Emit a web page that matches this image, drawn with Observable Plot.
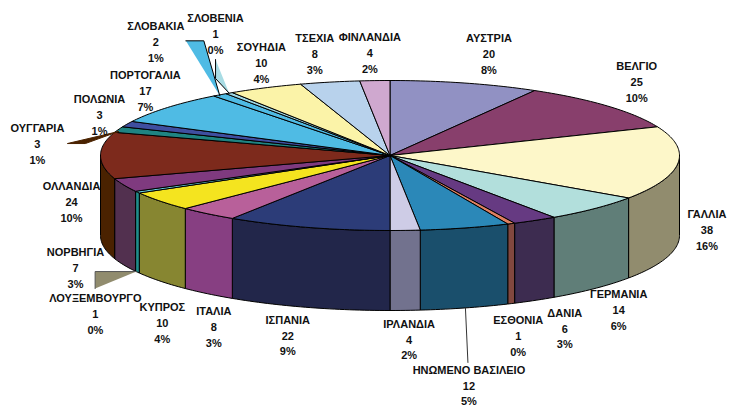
<!DOCTYPE html>
<html lang="el">
<head>
<meta charset="utf-8">
<script src="https://cdn.jsdelivr.net/npm/d3@7"></script>
<script src="https://cdn.jsdelivr.net/npm/@observablehq/plot@0.6"></script>
<style>html,body{margin:0;padding:0;background:#fff}</style>
</head>
<body>
<div id="chart"></div>
<script>
// Chart data, clockwise from twelve o'clock
const countries = ["ΑΥΣΤΡΙΑ","ΒΕΛΓΙΟ","ΓΑΛΛΙΑ","ΓΕΡΜΑΝΙΑ","ΔΑΝΙΑ","ΕΣΘΟΝΙΑ","ΗΝΩΜΕΝΟ ΒΑΣΙΛΕΙΟ","ΙΡΛΑΝΔΙΑ","ΙΣΠΑΝΙΑ","ΙΤΑΛΙΑ","ΚΥΠΡΟΣ","ΛΟΥΞΕΜΒΟΥΡΓΟ","ΝΟΡΒΗΓΙΑ","ΟΛΛΑΝΔΙΑ","ΟΥΓΓΑΡΙΑ","ΠΟΛΩΝΙΑ","ΠΟΡΤΟΓΑΛΙΑ","ΣΛΟΒΑΚΙΑ","ΣΛΟΒΕΝΙΑ","ΣΟΥΗΔΙΑ","ΤΣΕΧΙΑ","ΦΙΝΛΑΝΔΙΑ"];
const values = [20,25,38,14,6,1,12,4,22,8,10,1,7,24,3,3,17,2,1,10,8,4];

// Styles
const topColors = ["#9191c3","#883f6c","#fdf7c9","#b2dfdc","#663a82","#e08060","#2b88b8","#cecce6","#2c3c78","#b8609a","#f4e41f","#66cfdc","#7f3a7f","#7d2a1c","#1f8482","#3f4fa0","#4fbbe4","#4fbbe4","#a0d8e4","#fbf3a8","#b8d2ec","#cfa8cf"];
const sideColors = ["#5f5f85","#5c2a49","#918c6e","#607e78","#3d2c50","#82483f","#1a4f6c","#72728e","#22264a","#873f82","#878631","#1f8c8a","#52304f","#4a2200","#145958","#29356b","#337d99","#337d99","#6a919a","#a8a270","#7b8c9e","#8a708a"];

// Layout of the tilted pie, in the scale's units
const cx = 389.5, cy = 155, rx = 289.5, ry = 75, depth = 80;
// Where each label's middle line sits, relative to the rim at the wedge's middle
const labelDx = [24,29,29,24,30,7,4,4,-20,6,2,-42,-48.5,-29,-81,-27.6,-22,-64,-13.6,-4,-15,-5];
const labelDy = [-30,-25,66,100,107,111,156.5,108,107,112,121,121,82,45,13,-10.6,-18,-54,-60.6,-26,-29,-29];
// Leader tags, as offsets from the rim at the wedge's middle
const leaders = [
  {name:"ΟΥΓΓΑΡΙΑ", dx:[0,-51,-33,0], dy:[2,14,14,2], fill:"#4a2200", edge:[0,1,2,3], stroke:"#4a2200"},
  {name:"ΣΛΟΒΑΚΙΑ", dx:[0,-34,-16,0], dy:[1,-54,-54,1], fill:"#4fbbe4", edge:[1,2,3], stroke:"#000"},
  {name:"ΣΛΟΒΕΝΙΑ", dx:[0,-13.6,-13.6,0], dy:[0,-33.6,-14.6,0], fill:"#a8dce4", edge:[1,2,3], stroke:"#000"},
  {name:"ΛΟΥΞΕΜΒΟΥΡΓΟ", dx:[-1,-42.3,-42.3,-1], dy:[79.4,79.4,96.4,79.4], fill:"#918c6e", edge:[0,1,2], stroke:"#555"},
  {name:"ΗΝΩΜΕΝΟ ΒΑΣΙΛΕΙΟ", dx:[0.5,3], dy:[80,134.5], fill:"none", edge:[0,1], stroke:"#333"}
];

const total = d3.sum(values);
const cumulative = d3.cumsum(values);
const deg = d => d * Math.PI / 180;
const rimX = a => cx + rx * Math.sin(deg(a));
const rimY = a => cy - ry * Math.cos(deg(a));

const wedges = countries.map((name, i) => {
  const a0 = (cumulative[i] - values[i]) / total * 360;
  const a1 = cumulative[i] / total * 360;
  return {name, value: values[i], a0, a1, mid: (a0 + a1) / 2, top: topColors[i], side: sideColors[i], i};
});

const arc = (a0, a1) => {
  const n = Math.max(1, Math.ceil(a1 - a0));
  return d3.range(n + 1).map(k => a0 + (a1 - a0) * k / n);
};

const topPts = wedges.flatMap(w => [
  {name: w.name, fill: w.top, x: cx, y: cy},
  ...arc(w.a0, w.a1).map(a => ({name: w.name, fill: w.top, x: rimX(a), y: rimY(a)})),
  {name: w.name, fill: w.top, x: cx, y: cy}
]);

const sidePts = wedges.filter(w => w.a1 > 90 && w.a0 < 270).flatMap(w => {
  const as = arc(Math.max(w.a0, 90), Math.min(w.a1, 270));
  return [
    ...as.map(a => ({name: w.name, fill: w.side, x: rimX(a), y: rimY(a)})),
    ...as.slice().reverse().map(a => ({name: w.name, fill: w.side, x: rimX(a), y: rimY(a) + depth})),
    {name: w.name, fill: w.side, x: rimX(as[0]), y: rimY(as[0])}
  ];
});

const midOf = name => wedges.find(w => w.name === name).mid;
const leaderPts = leaders.flatMap(l => l.dx.map((dx, k) => ({
  name: l.name, k, fill: l.fill, stroke: l.stroke,
  x: rimX(midOf(l.name)) + dx, y: rimY(midOf(l.name)) + l.dy[k]
})));
const leaderEdges = leaders.flatMap(l => l.edge.map(k => leaderPts.find(p => p.name === l.name && p.k === k)));

const labels = wedges.map(w => ({
  text: `${w.name}\n${w.value}\n${Math.round(w.value / total * 100)}%`,
  x: rimX(w.mid) + labelDx[w.i],
  y: rimY(w.mid) + labelDy[w.i]
}));

const chart = Plot.plot({
  width: 729, height: 407, margin: 0,
  x: {domain: [0, 729], range: [0, 729], axis: null},
  y: {domain: [0, 407], range: [0, 407], axis: null},
  color: {type: "identity"},
  style: {background: "#fff"},
  marks: [
    Plot.line(sidePts, {x: "x", y: "y", z: "name", fill: "fill", stroke: "#000", strokeWidth: 1, curve: "linear"}),
    Plot.line(topPts, {x: "x", y: "y", z: "name", fill: "fill", stroke: "#000", strokeWidth: 1, curve: "linear"}),
    Plot.line(leaderPts.filter(p => p.fill !== "none"), {x: "x", y: "y", z: "name", fill: "fill", stroke: null, curve: "linear"}),
    Plot.line(leaderEdges, {x: "x", y: "y", z: "name", stroke: "stroke", strokeWidth: 1, curve: "linear"}),
    Plot.text(labels, {
      x: "x", y: "y", text: "text", textAnchor: "middle", lineAnchor: "middle",
      lineHeight: 1.45, fontSize: 11, fontWeight: 700, fontFamily: "Liberation Sans", fill: "#111"
    })
  ]
});
document.getElementById("chart").appendChild(chart);
</script>
</body>
</html>
